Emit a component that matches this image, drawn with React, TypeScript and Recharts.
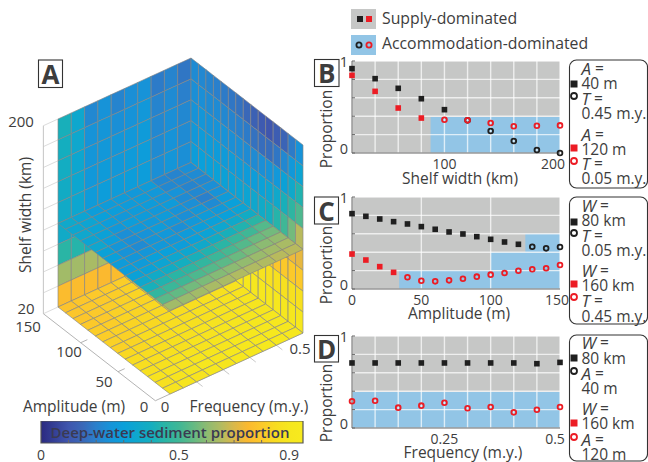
import {
  ScatterChart,
  Scatter,
  XAxis,
  YAxis,
  ReferenceArea,
  ReferenceLine,
} from "recharts"

const FONT = "'Open Sans', sans-serif"
const INK = "#3d3d3d"
const RED = "#ec1c24"
const BLACK = "#1f1f1f"

// panel A: cell edges
const freqEdges = [0, 0.05, 0.1, 0.15, 0.2, 0.25, 0.3, 0.35, 0.4, 0.45, 0.5]
const ampEdges = [150, 140, 130, 120, 110, 100, 90, 80, 70, 60, 50, 40, 30, 20, 10, 0]
const widthEdges = [200, 180, 160, 140, 120, 100, 80, 60, 40, 20]

// amp = 150 wall, rows from W = 200 down, columns by frequency
const backLeftWall = [
  [0.41, 0.35, 0.22, 0.25, 0.21, 0.24, 0.25, 0.19, 0.21, 0.18],
  [0.4, 0.35, 0.25, 0.26, 0.24, 0.25, 0.27, 0.21, 0.23, 0.2],
  [0.39, 0.34, 0.26, 0.27, 0.26, 0.27, 0.28, 0.22, 0.24, 0.22],
  [0.38, 0.34, 0.27, 0.28, 0.27, 0.28, 0.29, 0.23, 0.25, 0.23],
  [0.37, 0.34, 0.28, 0.29, 0.28, 0.29, 0.29, 0.24, 0.26, 0.24],
  [0.37, 0.36, 0.31, 0.31, 0.3, 0.3, 0.3, 0.28, 0.28, 0.28],
  [0.45, 0.44, 0.41, 0.4, 0.4, 0.4, 0.4, 0.4, 0.4, 0.4],
  [0.63, 0.63, 0.64, 0.64, 0.64, 0.65, 0.65, 0.66, 0.66, 0.66],
  [0.76, 0.76, 0.76, 0.75, 0.76, 0.76, 0.77, 0.77, 0.77, 0.78],
]

// freq = 0.5 wall, rows from W = 200 down, columns from amp 150 to 0
const backRightWall = [
  [0.23, 0.22, 0.21, 0.2, 0.19, 0.18, 0.17, 0.15, 0.13, 0.11, 0.1, 0.12, 0.14, 0.19, 0.25],
  [0.24, 0.24, 0.23, 0.23, 0.22, 0.21, 0.2, 0.19, 0.17, 0.16, 0.16, 0.18, 0.22, 0.27, 0.33],
  [0.25, 0.26, 0.25, 0.25, 0.25, 0.24, 0.24, 0.23, 0.23, 0.24, 0.25, 0.27, 0.31, 0.36, 0.43],
  [0.27, 0.28, 0.28, 0.28, 0.28, 0.28, 0.28, 0.28, 0.29, 0.31, 0.33, 0.36, 0.41, 0.46, 0.52],
  [0.29, 0.3, 0.3, 0.31, 0.31, 0.31, 0.32, 0.33, 0.35, 0.37, 0.4, 0.44, 0.5, 0.57, 0.66],
  [0.6, 0.6, 0.62, 0.65, 0.7, 0.78, 0.85, 0.82, 0.78, 0.76, 0.75, 0.74, 0.74, 0.73, 0.72],
  [0.7, 0.72, 0.75, 0.8, 0.88, 0.87, 0.86, 0.85, 0.84, 0.82, 0.8, 0.79, 0.8, 0.8, 0.8],
  [0.86, 0.87, 0.88, 0.89, 0.9, 0.9, 0.89, 0.89, 0.88, 0.88, 0.87, 0.87, 0.87, 0.87, 0.87],
  [0.9, 0.9, 0.9, 0.9, 0.91, 0.91, 0.91, 0.9, 0.9, 0.9, 0.9, 0.9, 0.9, 0.9, 0.9],
]

// W = 20 floor, rows from amp 150 to 0, columns by frequency
const floorCells = [
  [0.78, 0.79, 0.8, 0.8, 0.81, 0.82, 0.83, 0.84, 0.85, 0.85],
  [0.79, 0.8, 0.8, 0.81, 0.82, 0.83, 0.84, 0.85, 0.85, 0.86],
  [0.79, 0.8, 0.81, 0.82, 0.83, 0.83, 0.84, 0.85, 0.86, 0.86],
  [0.8, 0.8, 0.82, 0.83, 0.83, 0.84, 0.85, 0.85, 0.86, 0.87],
  [0.81, 0.81, 0.83, 0.83, 0.84, 0.84, 0.85, 0.86, 0.86, 0.87],
  [0.81, 0.82, 0.83, 0.84, 0.84, 0.85, 0.85, 0.86, 0.87, 0.87],
  [0.82, 0.82, 0.84, 0.84, 0.85, 0.85, 0.86, 0.87, 0.87, 0.88],
  [0.82, 0.83, 0.85, 0.85, 0.86, 0.86, 0.87, 0.87, 0.88, 0.88],
  [0.84, 0.84, 0.85, 0.86, 0.87, 0.87, 0.87, 0.88, 0.88, 0.89],
  [0.85, 0.85, 0.86, 0.87, 0.87, 0.88, 0.88, 0.88, 0.88, 0.89],
  [0.86, 0.86, 0.87, 0.87, 0.88, 0.88, 0.89, 0.89, 0.89, 0.89],
  [0.87, 0.87, 0.88, 0.88, 0.88, 0.89, 0.89, 0.89, 0.9, 0.9],
  [0.88, 0.88, 0.88, 0.89, 0.89, 0.89, 0.9, 0.9, 0.9, 0.9],
  [0.87, 0.88, 0.89, 0.9, 0.89, 0.9, 0.9, 0.9, 0.91, 0.9],
  [0.88, 0.89, 0.88, 0.9, 0.89, 0.9, 0.9, 0.91, 0.91, 0.9],
]

// W = 100 slice, rows from amp 150 to 0, columns by frequency
const sliceCells = [
  [0.36, 0.33, 0.29, 0.28, 0.28, 0.27, 0.28, 0.22, 0.21, 0.24],
  [0.34, 0.33, 0.3, 0.29, 0.28, 0.28, 0.27, 0.22, 0.22, 0.23],
  [0.35, 0.32, 0.29, 0.27, 0.28, 0.28, 0.26, 0.25, 0.21, 0.22],
  [0.33, 0.31, 0.27, 0.29, 0.28, 0.27, 0.28, 0.23, 0.22, 0.24],
  [0.34, 0.29, 0.24, 0.27, 0.27, 0.28, 0.25, 0.24, 0.2, 0.25],
  [0.31, 0.26, 0.24, 0.25, 0.28, 0.26, 0.24, 0.26, 0.23, 0.28],
  [0.3, 0.25, 0.23, 0.26, 0.27, 0.24, 0.27, 0.28, 0.27, 0.3],
  [0.28, 0.26, 0.26, 0.27, 0.26, 0.28, 0.29, 0.3, 0.3, 0.32],
  [0.29, 0.28, 0.3, 0.3, 0.29, 0.3, 0.32, 0.34, 0.36, 0.38],
  [0.31, 0.31, 0.33, 0.34, 0.34, 0.36, 0.38, 0.41, 0.43, 0.45],
  [0.35, 0.37, 0.38, 0.4, 0.41, 0.43, 0.45, 0.48, 0.5, 0.53],
  [0.41, 0.43, 0.45, 0.46, 0.47, 0.49, 0.51, 0.53, 0.56, 0.57],
  [0.47, 0.49, 0.5, 0.52, 0.53, 0.54, 0.56, 0.58, 0.6, 0.61],
  [0.54, 0.55, 0.57, 0.58, 0.59, 0.6, 0.61, 0.62, 0.63, 0.64],
  [0.63, 0.62, 0.63, 0.64, 0.64, 0.65, 0.65, 0.65, 0.66, 0.66],
]

const colourStops: [number, string][] = [
  [0, "#2b2a80"],
  [0.1, "#3f56ae"],
  [0.15, "#3a68b8"],
  [0.2, "#2a80cc"],
  [0.25, "#1793d8"],
  [0.3, "#0aa0da"],
  [0.4, "#14aebf"],
  [0.45, "#2ab5a5"],
  [0.5, "#3fb796"],
  [0.55, "#62ba84"],
  [0.6, "#8cbb72"],
  [0.65, "#b0bb62"],
  [0.7, "#dab84a"],
  [0.75, "#fbb92f"],
  [0.8, "#fcc92a"],
  [0.85, "#f8dc20"],
  [0.9, "#f6e71e"],
  [0.95, "#f7ea1e"],
]
const colourBarTicks = [0, 0.5, 0.9]
const colourBarMinor = [0.1, 0.2, 0.3, 0.4, 0.6, 0.7, 0.8]

// panel B
const shelfWidths = [20, 40, 60, 80, 100, 120, 140, 160, 180, 200]
const bBlack = [0.917, 0.808, 0.703, 0.59, 0.471, 0.355, 0.239, 0.13, 0.033, 0]
const bRed = [0.844, 0.67, 0.489, 0.38, 0.362, 0.355, 0.326, 0.29, 0.297, 0.3]
const bBlackSupply = 5
const bRedSupply = 4

// panel C
const amplitudes = [0, 10, 20, 30, 40, 50, 60, 70, 80, 90, 100, 110, 120, 130, 140, 150]
const cBlack = [0.819, 0.79, 0.761, 0.732, 0.707, 0.678, 0.649, 0.62, 0.598, 0.569, 0.54, 0.511, 0.486, 0.46, 0.442, 0.457]
const cRed = [0.38, 0.315, 0.243, 0.181, 0.127, 0.09, 0.083, 0.094, 0.112, 0.134, 0.156, 0.174, 0.199, 0.214, 0.225, 0.261]
const cBlackSupply = 13
const cRedSupply = 4

// panel D
const frequencies = [0.05, 0.1, 0.15, 0.2, 0.25, 0.3, 0.35, 0.4, 0.45, 0.5]
const dBlack = [0.707, 0.707, 0.707, 0.707, 0.707, 0.707, 0.707, 0.707, 0.699, 0.713]
const dRed = [0.29, 0.297, 0.221, 0.243, 0.275, 0.214, 0.228, 0.17, 0.199, 0.228]
const dBlackSupply = 10
const dRedSupply = 0

const proportionTicks = [0, 0.2, 0.4, 0.6, 0.8, 1]

function smoothColour(v: number) {
  const hi = colourStops.findIndex((s) => s[0] >= v)
  if (hi <= 0) return colourStops[0][1]
  const [a, ca] = colourStops[hi - 1]
  const [b, cb] = colourStops[hi]
  const t = (v - a) / (b - a)
  const mix = (i: number) =>
    Math.round(
      parseInt(ca.slice(i, i + 2), 16) * (1 - t) + parseInt(cb.slice(i, i + 2), 16) * t,
    )
  return `rgb(${mix(1)},${mix(3)},${mix(5)})`
}

// oblique view of the cube, chart units are pixels
function project(freq: number, amp: number, width: number) {
  return {
    x: 170 + (freq / 0.5) * 133 - (amp / 150) * 112,
    y: 394 - (freq / 0.5) * 61 - (amp / 150) * 87 - ((width - 20) / 180) * 188,
  }
}

type P3 = [number, number, number]

function makeCell(value: number, corners3: P3[]) {
  const corners = corners3.map((c) => project(c[0], c[1], c[2]))
  const x = corners.reduce((s, c) => s + c.x, 0) / 4
  const y = corners.reduce((s, c) => s + c.y, 0) / 4
  return { x, y, value, corners }
}

const leftWallData = backLeftWall.flatMap((row, r) =>
  row.map((v, c) =>
    makeCell(v, [
      [freqEdges[c], 150, widthEdges[r]],
      [freqEdges[c + 1], 150, widthEdges[r]],
      [freqEdges[c + 1], 150, widthEdges[r + 1]],
      [freqEdges[c], 150, widthEdges[r + 1]],
    ]),
  ),
)
const rightWallData = backRightWall.flatMap((row, r) =>
  row.map((v, c) =>
    makeCell(v, [
      [0.5, ampEdges[c], widthEdges[r]],
      [0.5, ampEdges[c + 1], widthEdges[r]],
      [0.5, ampEdges[c + 1], widthEdges[r + 1]],
      [0.5, ampEdges[c], widthEdges[r + 1]],
    ]),
  ),
)
const levelData = (cells: number[][], w: number) =>
  cells.flatMap((row, r) =>
    row.map((v, c) =>
      makeCell(v, [
        [freqEdges[c], ampEdges[r], w],
        [freqEdges[c + 1], ampEdges[r], w],
        [freqEdges[c + 1], ampEdges[r + 1], w],
        [freqEdges[c], ampEdges[r + 1], w],
      ]),
    ),
  )

function CellShape(props: any) {
  const { cx, cy, payload } = props
  const points = payload.corners
    .map((c: any) => `${cx + c.x - payload.x},${cy + c.y - payload.y}`)
    .join(" ")
  return (
    <polygon
      points={points}
      fill={smoothColour(payload.value)}
      stroke="#858585"
      strokeWidth={0.65}
      strokeLinejoin="round"
    />
  )
}

const segment = (a: P3, b: P3) => {
  const p = project(a[0], a[1], a[2])
  const q = project(b[0], b[1], b[2])
  return [
    { x: p.x, y: p.y },
    { x: q.x, y: q.y },
  ] as any
}

function CubeChart() {
  return (
    <ScatterChart width={648} height={462} margin={{ top: 0, right: 0, bottom: 0, left: 0 }}>
      <XAxis type="number" dataKey="x" domain={[0, 648]} hide />
      <YAxis type="number" dataKey="y" domain={[0, 462]} reversed hide />
      {widthEdges.map((w) => (
        <ReferenceLine key={w} segment={segment([-0.055, 150, w], [0, 150, w])} stroke="#dcdcdc" />
      ))}
      <ReferenceLine segment={segment([-0.055, 150, 20], [-0.055, 150, 200])} stroke="#c4c4c4" />
      <ReferenceLine segment={segment([-0.055, 150, 20], [-0.055, 0, 20])} stroke="#b4b4b4" />
      {[50, 100].map((a) => (
        <ReferenceLine key={a} segment={segment([-0.055, a, 20], [-0.03, a, 20])} stroke="#b4b4b4" />
      ))}
      {[0.1, 0.2, 0.3, 0.4].map((f) => (
        <ReferenceLine key={f} segment={segment([f, 0, 20], [f, -8, 20])} stroke="#c8c8c8" />
      ))}
      <ReferenceLine segment={segment([-0.055, 0, 20], [0, 0, 20])} stroke="#b4b4b4" />
      <ReferenceLine segment={segment([0, 0, 20], [0.5, 0, 20])} stroke="#c4c4c4" />
      <Scatter data={leftWallData} shape={CellShape} isAnimationActive={false} />
      <Scatter data={rightWallData} shape={CellShape} isAnimationActive={false} />
      <Scatter data={levelData(floorCells, 20)} shape={CellShape} isAnimationActive={false} />
      <Scatter data={levelData(sliceCells, 100)} shape={CellShape} isAnimationActive={false} />
    </ScatterChart>
  )
}

function MinorBarTick(props: any) {
  return <line x1={props.cx} x2={props.cx} y1={props.cy} y2={props.cy - 3} stroke="#666" />
}

function ColourBar() {
  return (
    <ScatterChart width={282} height={41} margin={{ top: 0, right: 10, bottom: 0, left: 10 }}>
      <defs>
        <linearGradient id="barFill" x1="0" x2="1" y1="0" y2="0">
          {colourStops.map(([v, c]) => (
            <stop key={v} offset={v / 0.95} stopColor={c} />
          ))}
        </linearGradient>
      </defs>
      <XAxis
        type="number"
        dataKey="x"
        domain={[0, 0.95]}
        ticks={colourBarTicks}
        interval={0}
        height={19}
        axisLine={false}
        tickLine={false}
        tickMargin={1}
        tick={{ fill: INK, fontFamily: FONT, fontSize: 14 }}
      />
      <YAxis type="number" dataKey="y" domain={[0, 1]} hide />
      <ReferenceArea
        x1={0}
        x2={0.95}
        y1={0}
        y2={1}
        fill="url(#barFill)"
        fillOpacity={1}
        stroke="#555"
        strokeWidth={1.2}
      />
      <Scatter
        data={colourBarMinor.map((x) => ({ x, y: 0 }))}
        shape={MinorBarTick}
        isAnimationActive={false}
      />
    </ScatterChart>
  )
}

function SquareMark(props: any) {
  return (
    <rect x={props.cx - 2.8} y={props.cy - 2.8} width={5.6} height={5.6} fill={props.colour} />
  )
}

function RingMark(props: any) {
  return <circle cx={props.cx} cy={props.cy} r={2.4} fill="none" stroke={props.colour} strokeWidth={1.8} />
}

function rows(xs: number[], ys: number[]) {
  return xs.map((x, i) => ({ x, y: ys[i] }))
}

interface PanelProps {
  xs: number[]
  black: number[]
  red: number[]
  blackSupply: number
  redSupply: number
  domain: [number, number]
  xTicks: number[]
  xLabels: Record<number, [string, number]>
  zones: { x1: number; x2: number; y1: number; y2: number }[]
  top: number
}

function ProportionPanel(p: PanelProps) {
  const blackRows = rows(p.xs, p.black)
  const redRows = rows(p.xs, p.red)
  const blackSquares = blackRows.slice(0, p.blackSupply)
  const blackRings = blackRows.slice(p.blackSupply)
  const redSquares = redRows.slice(0, p.redSupply)
  const redRings = redRows.slice(p.redSupply)
  const [x0, x1] = p.domain
  const xStub = ((x1 - x0) * 3) / 208

  const xTick = (t: any) => {
    const label = p.xLabels[t.payload.value]
    if (!label) return <g />
    return (
      <text
        x={t.x + label[1]}
        y={t.y + 16}
        textAnchor="middle"
        fontFamily={FONT}
        fontSize={14}
        fill={INK}
      >
        {label[0]}
      </text>
    )
  }
  const yTick = (t: any) => {
    if (t.payload.value !== 0 && t.payload.value !== 1) return <g />
    return (
      <text
        x={t.x - 4}
        y={t.y + (t.payload.value === 1 ? 6 : 1)}
        textAnchor="end"
        fontFamily={FONT}
        fontSize={14.5}
        fill={INK}
      >
        {t.payload.value}
      </text>
    )
  }

  return (
    <div style={{ position: "absolute", left: 320, top: p.top - 10 }}>
      <ScatterChart width={260} height={132} margin={{ top: 10, right: 20, bottom: 0, left: 0 }}>
        <XAxis
          type="number"
          dataKey="x"
          domain={p.domain}
          ticks={p.xTicks}
          interval={0}
          height={30}
          tickSize={0}
          tickMargin={0}
          tickLine={false}
          tick={xTick}
          axisLine={false}
        />
        <YAxis
          type="number"
          dataKey="y"
          domain={[0, 1]}
          ticks={proportionTicks}
          interval={0}
          width={32}
          tickSize={0}
          tickMargin={0}
          tickLine={false}
          tick={yTick}
          axisLine={false}
        />
        <ReferenceArea x1={x0} x2={x1} y1={0} y2={1} fill="#c6c7c6" fillOpacity={1} stroke="none" />
        {p.zones.map((z, i) => (
          <ReferenceArea key={i} {...z} fill="#92c5e6" fillOpacity={1} stroke="none" />
        ))}
        {proportionTicks.map((v) => (
          <ReferenceLine key={v} y={v} stroke="#ffffff" strokeOpacity={0.7} strokeWidth={1.4} />
        ))}
        {p.xTicks.map((v) => (
          <ReferenceLine key={v} x={v} stroke="#ffffff" strokeOpacity={0.7} strokeWidth={1.4} />
        ))}
        <ReferenceLine x={x0} stroke="#666" />
        <ReferenceLine y={0} stroke="#666" />
        {proportionTicks.map((v) => (
          <ReferenceLine
            key={v}
            segment={[
              { x: x0, y: v },
              { x: x0 + xStub, y: v },
            ]}
            stroke="#666"
          />
        ))}
        <Scatter data={blackRings} shape={<RingMark colour={BLACK} />} isAnimationActive={false} />
        <Scatter data={blackSquares} shape={<SquareMark colour={BLACK} />} isAnimationActive={false} />
        <Scatter data={redSquares} shape={<SquareMark colour={RED} />} isAnimationActive={false} />
        <Scatter data={redRings} shape={<RingMark colour={RED} />} isAnimationActive={false} />
      </ScatterChart>
    </div>
  )
}

function Txt(props: any) {
  const { x, y, size = 15, anchor = "middle", rotate, weight, children, fill = INK } = props
  return (
    <text
      x={x}
      y={y}
      fontFamily={FONT}
      fontSize={size}
      fontWeight={weight}
      fill={fill}
      textAnchor={anchor}
      dominantBaseline="central"
      transform={rotate ? `rotate(${rotate} ${x} ${y})` : undefined}
    >
      {children}
    </text>
  )
}

function LetterBox({ x, y, w, h, letter }: any) {
  return (
    <g>
      <rect x={x} y={y} width={w} height={h} fill="#fff" stroke="#333" strokeWidth={1.1} />
      <Txt x={x + w / 2} y={y + h / 2} size={26} weight={700}>
        {letter}
      </Txt>
    </g>
  )
}

function KeyBox({ top, height, lines, ys, marks }: any) {
  return (
    <g>
      <rect x={569.5} y={top} width={78} height={height} rx={7} fill="#fff" stroke="#333" strokeWidth={1.1} />
      {lines.map((l: string, i: number) => {
        const isVar = l.endsWith("=")
        return (
          <Txt key={i} x={581.5} y={ys[i]} anchor="start" size={15.5}>
            {isVar ? (
              <>
                <tspan fontStyle="italic" fontSize={17}>
                  {l[0]}
                </tspan>
                <tspan> =</tspan>
              </>
            ) : (
              l
            )}
          </Txt>
        )
      })}
      <rect x={570.5} y={marks[0] - 3.5} width={7} height={7} fill={BLACK} />
      <circle cx={574} cy={marks[1]} r={3} fill="none" stroke={BLACK} strokeWidth={1.8} />
      <rect x={570.5} y={marks[2] - 3.5} width={7} height={7} fill={RED} />
      <circle cx={574} cy={marks[3]} r={3} fill="none" stroke={RED} strokeWidth={1.8} />
    </g>
  )
}

export default function App() {
  return (
    <div style={{ position: "absolute", left: 0, top: 0, width: 648, height: 462, background: "#fff", overflow: "hidden" }}>
      <div style={{ position: "absolute", left: 0, top: 0 }}>
        <CubeChart />
      </div>
      <div style={{ position: "absolute", left: 31, top: 421 }}>
        <ColourBar />
      </div>

      <ProportionPanel
        top={61}
        xs={shelfWidths}
        black={bBlack}
        red={bRed}
        blackSupply={bBlackSupply}
        redSupply={bRedSupply}
        domain={[20, 200]}
        xTicks={shelfWidths}
        xLabels={{ 100: ["100", 0], 200: ["200", -7] }}
        zones={[{ x1: 88, x2: 200, y1: 0, y2: 0.39 }]}
      />
      <ProportionPanel
        top={197}
        xs={amplitudes}
        black={cBlack}
        red={cRed}
        blackSupply={cBlackSupply}
        redSupply={cRedSupply}
        domain={[0, 150]}
        xTicks={[0, 50, 100, 150]}
        xLabels={{ 0: ["0", 0], 50: ["50", 0], 100: ["100", 0], 150: ["150", -3] }}
        zones={[
          { x1: 34, x2: 150, y1: 0, y2: 0.2 },
          { x1: 100, x2: 150, y1: 0.2, y2: 0.4 },
          { x1: 125, x2: 150, y1: 0.4, y2: 0.6 },
        ]}
      />
      <ProportionPanel
        top={336}
        xs={frequencies}
        black={dBlack}
        red={dRed}
        blackSupply={dBlackSupply}
        redSupply={dRedSupply}
        domain={[0.05, 0.5]}
        xTicks={frequencies}
        xLabels={{ 0.25: ["0.25", 0], 0.5: ["0.5", -5] }}
        zones={[{ x1: 0.05, x2: 0.5, y1: 0, y2: 0.39 }]}
      />

      <svg width={648} height={462} style={{ position: "absolute", left: 0, top: 0, pointerEvents: "none" }}>
        <LetterBox x={38.5} y={60} w={24} h={27.5} letter="A" />
        <LetterBox x={314.5} y={59.5} w={24.5} h={27} letter="B" />
        <LetterBox x={314.5} y={197} w={24} h={27} letter="C" />
        <LetterBox x={314.5} y={335.5} w={24} h={26.5} letter="D" />

        <Txt x={21} y={121} size={15}>200</Txt>
        <Txt x={26} y={308} size={15}>20</Txt>
        <Txt x={28} y={326} size={15}>150</Txt>
        <Txt x={69} y={351} size={15}>100</Txt>
        <Txt x={104} y={381} size={15}>50</Txt>
        <Txt x={144} y={406} size={15}>0</Txt>
        <Txt x={165} y={406} size={15}>0</Txt>
        <Txt x={300} y={348} size={15}>0.5</Txt>
        <Txt x={25} y={215} size={15.5} rotate={-90}>Shelf width (km)</Txt>
        <Txt x={74} y={406} size={15.5}>Amplitude (m)</Txt>
        <Txt x={249} y={406} size={15.5}>Frequency (m.y.)</Txt>

        <Txt x={170} y={432} size={15} weight={600} fill="#3a3a52">Deep-water sediment proportion</Txt>

        <Txt x={326} y={129} size={15.5} rotate={-90}>Proportion</Txt>
        <Txt x={326} y={265} size={15.5} rotate={-90}>Proportion</Txt>
        <Txt x={326} y={403} size={15.5} rotate={-90}>Proportion</Txt>
        <Txt x={460} y={178} size={15.5}>Shelf width (km)</Txt>
        <Txt x={459} y={313} size={15.5}>Amplitude (m)</Txt>
        <Txt x={463} y={452} size={15.5}>Frequency (m.y.)</Txt>

        <rect x={351} y={9} width={25} height={20} fill="#c6c7c6" />
        <rect x={357} y={16} width={6} height={6} fill={BLACK} />
        <rect x={366} y={16} width={6} height={6} fill={RED} />
        <Txt x={382} y={18} anchor="start" size={15.8}>Supply-dominated</Txt>
        <rect x={351} y={35} width={25} height={20} fill="#92c5e6" />
        <circle cx={359} cy={45} r={2.6} fill="none" stroke={BLACK} strokeWidth={1.8} />
        <circle cx={369} cy={45} r={2.6} fill="none" stroke={RED} strokeWidth={1.8} />
        <Txt x={382} y={43} anchor="start" size={15.8}>Accommodation-dominated</Txt>

        <KeyBox
          top={60}
          height={128}
          lines={["A =", "40 m", "T =", "0.45 m.y.", "A =", "120 m", "T =", "0.05 m.y."]}
          ys={[68, 83, 98, 113, 134, 149, 163, 178]}
          marks={[84, 96, 148, 161]}
        />
        <KeyBox
          top={197}
          height={127}
          lines={["W =", "80 km", "T =", "0.05 m.y.", "W =", "160 km", "T =", "0.45 m.y."]}
          ys={[205, 220, 235, 250, 270, 285, 300, 316]}
          marks={[222, 233, 284, 297]}
        />
        <KeyBox
          top={335}
          height={126}
          lines={["W =", "80 km", "A =", "40 m", "W =", "160 km", "A =", "120 m"]}
          ys={[342, 358, 373, 388, 408, 423, 439, 454]}
          marks={[358, 371, 423, 437]}
        />
      </svg>
    </div>
  )
}
